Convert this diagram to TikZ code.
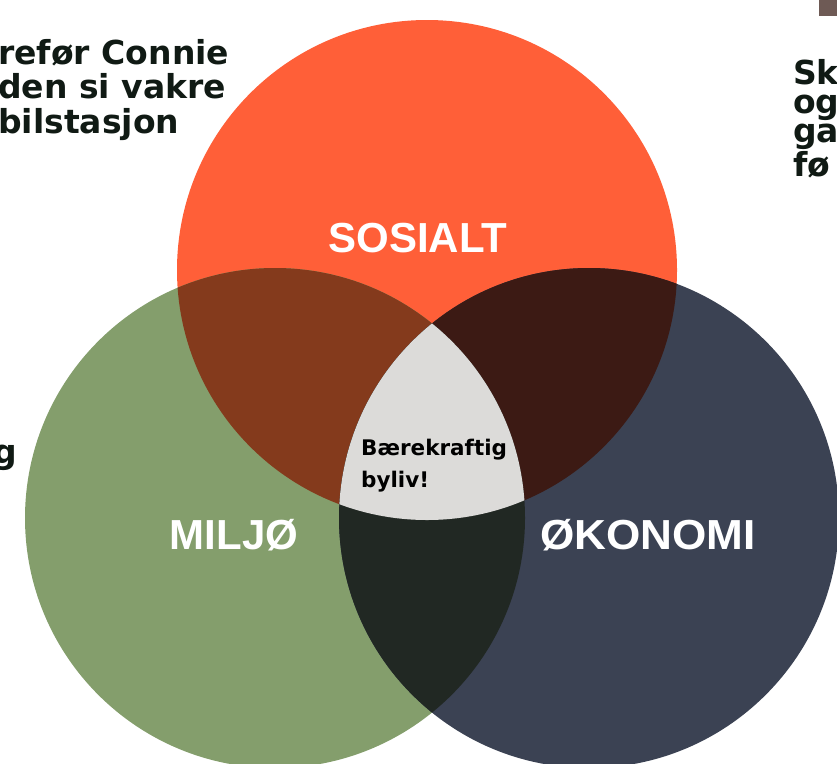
\documentclass[tikz,border=0pt]{standalone}
\usepackage{fontspec}
\setmainfont{Liberation Sans}
\newfontfamily\brodfont{DejaVu Sans}
\usepackage{tikz}
\usetikzlibrary{positioning}
\definecolor{sosialt}{HTML}{FF5F38}
\definecolor{miljo}{HTML}{849E6C}
\definecolor{okonomi}{HTML}{3B4253}
\definecolor{sosmil}{HTML}{843A1C}
\definecolor{sosoko}{HTML}{3C1A14}
\definecolor{miloko}{HTML}{212823}
\definecolor{midten}{HTML}{DCDBD9}
\definecolor{skrift}{HTML}{101A14}
\definecolor{hjorne}{HTML}{6E5A55}
\tikzset{
  etikett/.style={text=white,inner sep=0pt,anchor=base,
    font=\bfseries\fontsize{42}{48}\selectfont},
  kanttekst/.style={text=skrift,inner sep=0pt,anchor=base west,align=left,
    font=\brodfont\bfseries\fontsize{33}{34.5}\selectfont},
  midttekst/.style={text=black,inner sep=0pt,anchor=base west,align=left,
    font=\brodfont\bfseries\fontsize{21.5}{32}\selectfont},
}
\begin{document}
\begin{tikzpicture}[x=1pt,y=-1pt]
\useasboundingbox (0,0) rectangle (837,763);
\clip (0,0) rectangle (837,763);
\coordinate (s) at (427,270);
\coordinate (m) at (275,518);
\coordinate (o) at (589,518);
\fill[sosialt] (s) circle[radius=250pt];
\fill[miljo] (m) circle[radius=250pt];
\fill[okonomi] (o) circle[radius=250pt];
\begin{scope}
  \clip (s) circle[radius=250pt];
  \fill[sosmil] (m) circle[radius=250pt];
  \fill[sosoko] (o) circle[radius=250pt];
\end{scope}
\begin{scope}
  \clip (m) circle[radius=250pt];
  \fill[miloko] (o) circle[radius=250pt];
\end{scope}
\begin{scope}
  \clip (s) circle[radius=250pt];
  \clip (m) circle[radius=250pt];
  \fill[midten] (o) circle[radius=250pt];
\end{scope}
\fill[hjorne] (819,0) rectangle (837,16);
\node[etikett] (sos) at (418,252) {SOSIALT};
\node[etikett] (mil) at (234,549) {MILJØ};
\node[etikett,xscale=1.05] (oko) at (648,549) {ØKONOMI};
\node[midttekst] (byliv) at (361,487) {Bærekraftig\\byliv!};
\node[kanttekst] (venstre) at (-2,133) {refør Connie\\den si vakre\\bilstasjon};
\node[kanttekst,anchor=base east] (g) at (17,463) {g};
\node[kanttekst,font=\brodfont\bfseries\fontsize{33}{29}\selectfont] (hoyre) at (793,176) {Sk\\og\\ga\\fø};
\end{tikzpicture}
\end{document}
